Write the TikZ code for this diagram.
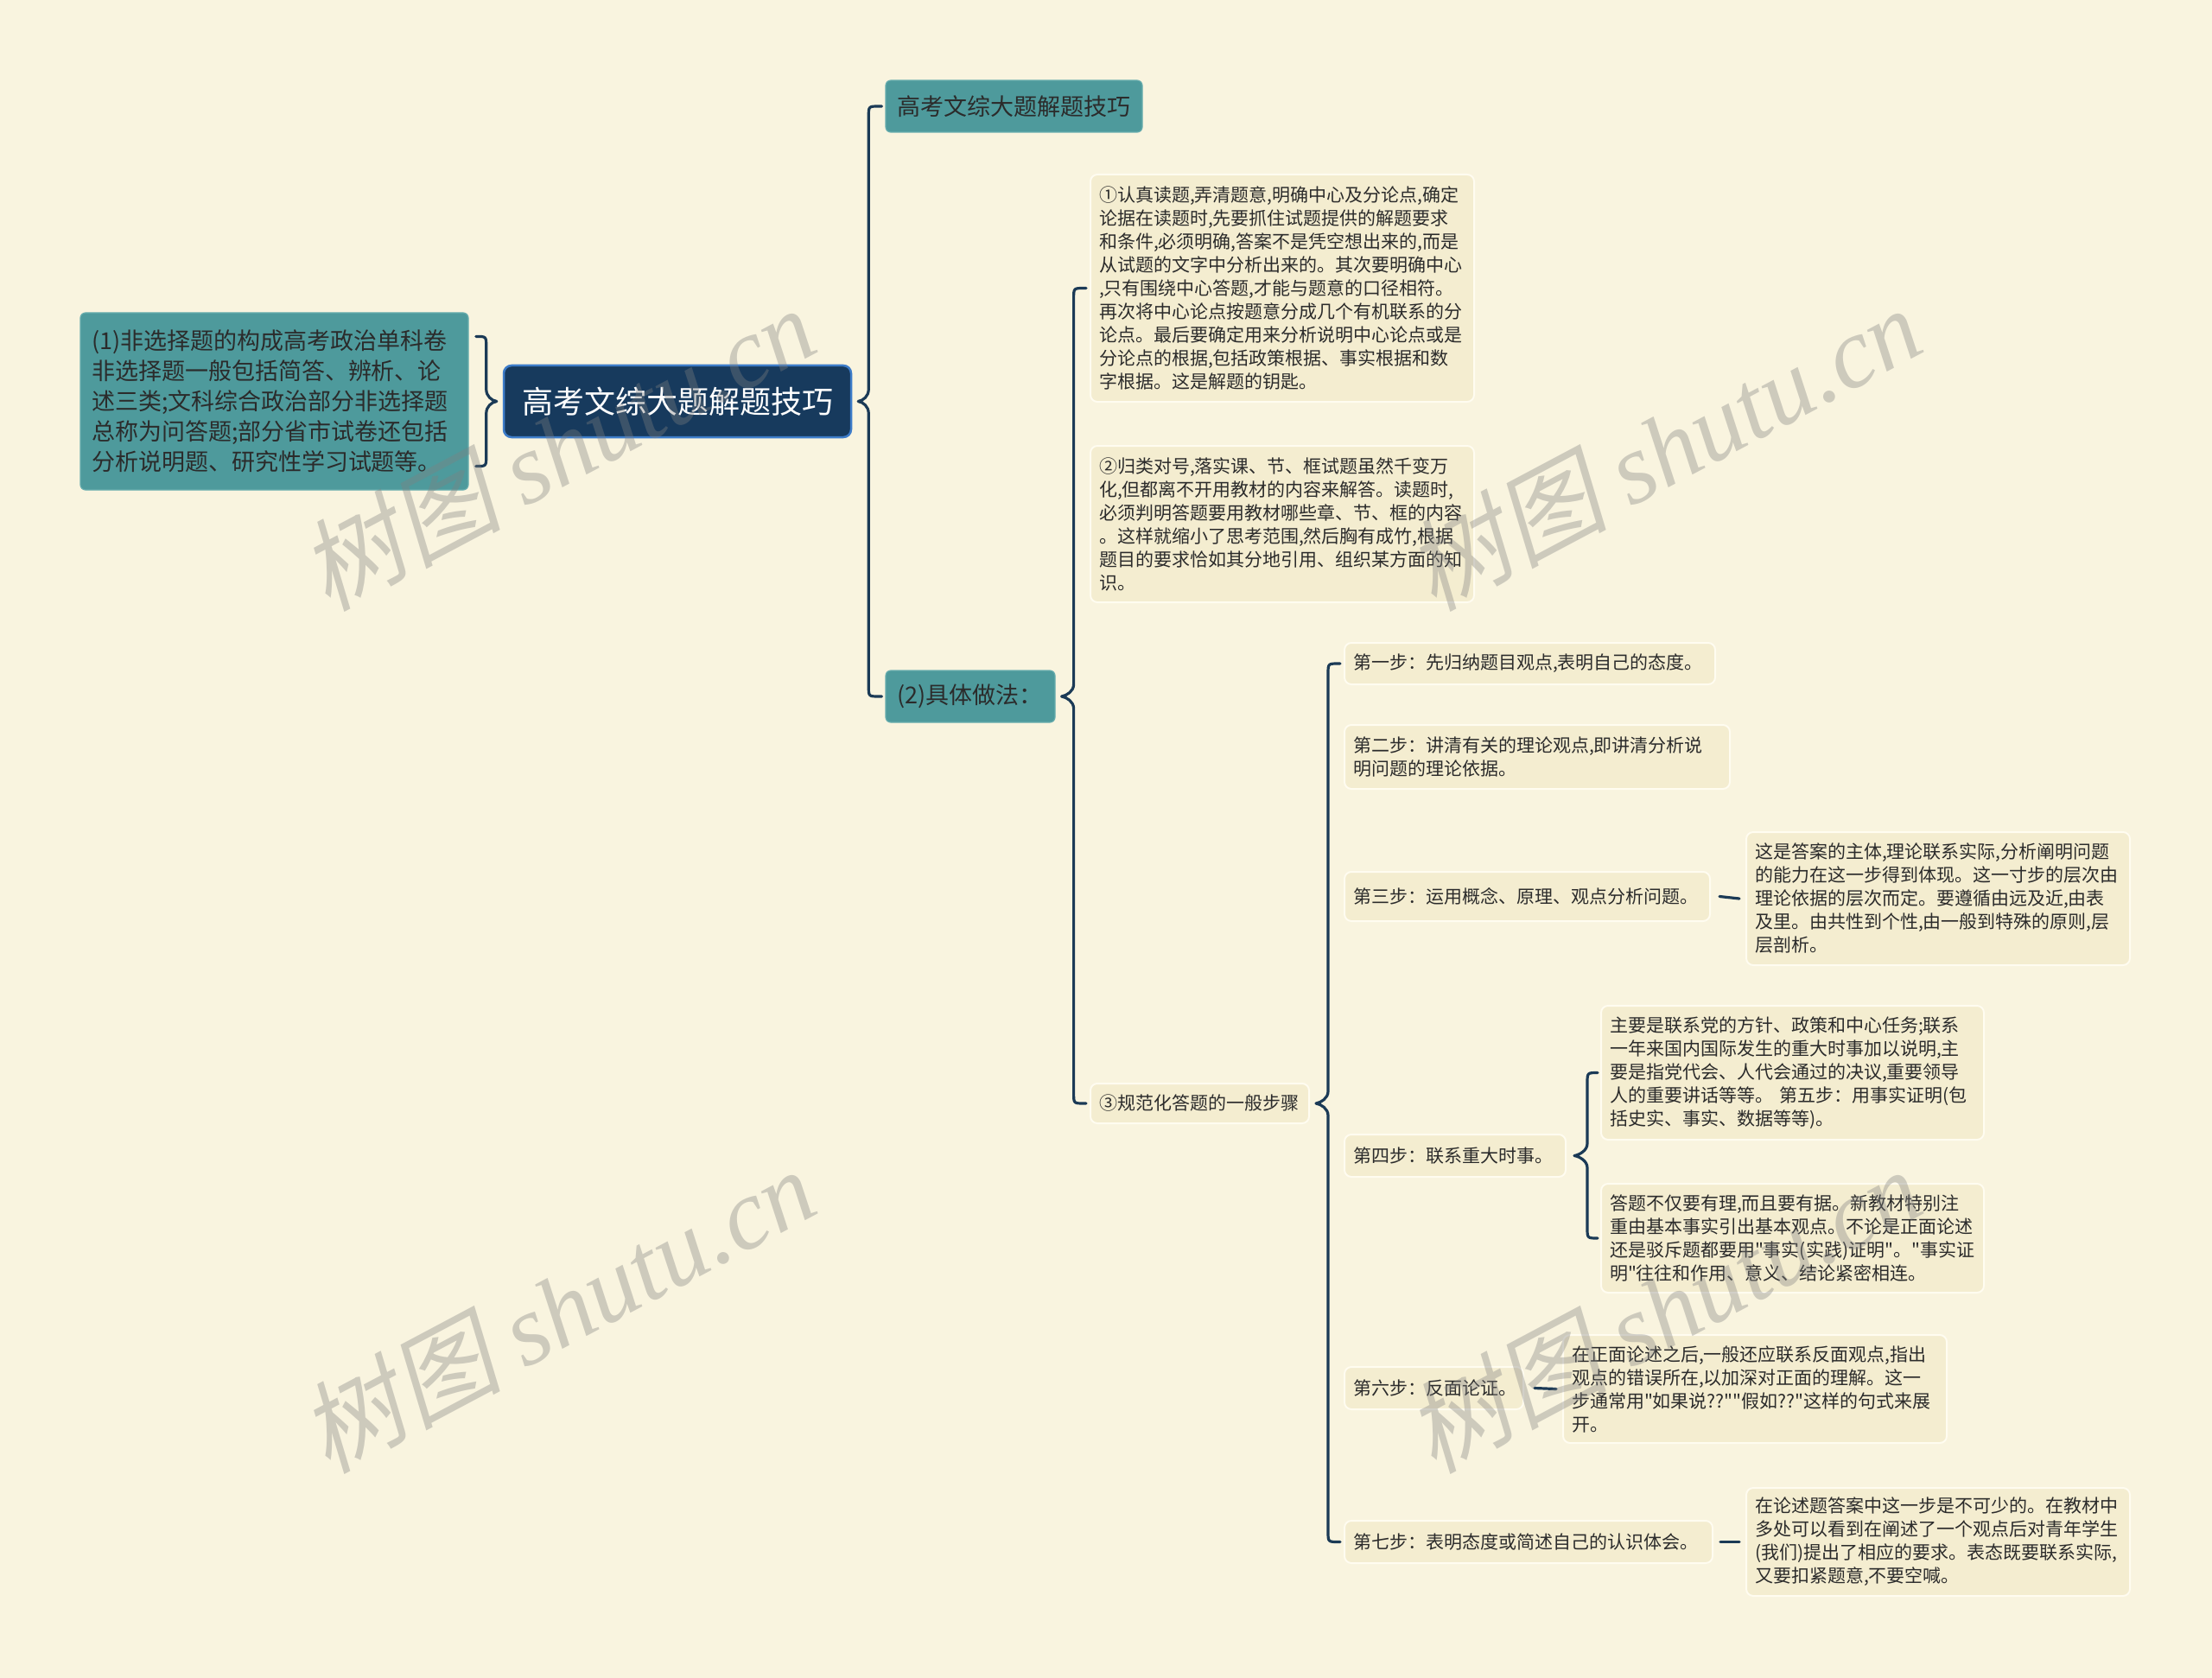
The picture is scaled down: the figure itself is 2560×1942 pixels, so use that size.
\documentclass[tikz,border=0pt]{standalone}
\usepackage{fontspec}
\setmainfont{Noto Sans CJK SC}[Ligatures=TeXOff]
\newfontfamily\wmlatin{Liberation Serif}[Ligatures=TeXOff]
\newfontfamily\wmcjk{Noto Sans CJK SC}[FakeSlant=0.2]
\usetikzlibrary{calc}
\definecolor{bgc}{HTML}{F9F4DF}
\definecolor{tealc}{HTML}{4E9A9C}
\definecolor{tealb}{HTML}{68ADAE}
\definecolor{rootc}{HTML}{173A5D}
\definecolor{rootb}{HTML}{3D7CC9}
\definecolor{leafc}{HTML}{F4EDD0}
\definecolor{leafb}{HTML}{FFFCF0}
\definecolor{connc}{HTML}{1B3A56}
\definecolor{txtc}{HTML}{2B2B2B}
\newcommand{\BrOpen}[4]{%
\draw[conn] ($(#3)+(-4,0)$) -- ($(#2|-#3)+(12,0)$) .. controls (#2|-#3) .. ($(#2|-#3)+(0,12)$) -- ($(#2)+(0,-14)$) .. controls ($(#2)+(0,-6)$) and ($(#1)+(6,-1)$) .. (#1) .. controls ($(#1)+(6,1)$) and ($(#2)+(0,6)$) .. ($(#2)+(0,14)$) -- ($(#2|-#4)+(0,-12)$) .. controls (#2|-#4) .. ($(#2|-#4)+(12,0)$) -- ($(#4)+(-4,0)$);}
\newcommand{\WMtext}{{\wmcjk 树图} {\wmlatin\itshape shutu.cn}}
\begin{document}
\begin{tikzpicture}[x=1pt,y=-1pt,
  tealbox/.style={rounded corners=6, fill=tealc, draw=tealb, line width=1.2, text=txtc, font=\fontsize{27}{35}\selectfont, inner xsep=13, inner ysep=2, align=left},
  rootbox/.style={rounded corners=9, fill=rootc, draw=rootb, line width=2.5, text=white, font=\fontsize{36}{44}\selectfont, inner sep=4},
  leafbox/.style={rounded corners=8, fill=leafc, draw=leafb, line width=2, text=txtc, font=\fontsize{21}{27}\selectfont, inner xsep=10, inner ysep=2, align=left},
  conn/.style={draw=connc, line width=3.2, line cap=round, line join=round},
  wm/.style={text=black!50, text opacity=0.36, font=\fontsize{116}{120}\selectfont, rotate=28}
]
\useasboundingbox (0,0) rectangle (2560,1942);
\fill[bgc] (0,0) rectangle (2560,1942);

% nodes
\node[tealbox, minimum width=449, minimum height=205, text width=423] (L) at (317.5,464.5) {(1)非选择题的构成高考政治单科卷\\非选择题一般包括简答、辨析、论\\述三类;文科综合政治部分非选择题\\总称为问答题;部分省市试卷还包括\\分析说明题、研究性学习试题等。};
\node[rootbox, minimum width=402, minimum height=83] (root) at (784,464.5) {高考文综大题解题技巧};
\node[tealbox, minimum width=297, minimum height=60, text width=271] (A) at (1173.5,123) {高考文综大题解题技巧};
\node[tealbox, minimum width=196, minimum height=60, text width=170] (B) at (1123,806) {(2)具体做法：};

\node[leafbox, minimum width=444, minimum height=263, text width=424] (C1) at (1484,333.5) {①认真读题,弄清题意,明确中心及分论点,确定\\论据在读题时,先要抓住试题提供的解题要求\\和条件,必须明确,答案不是凭空想出来的,而是\\从试题的文字中分析出来的。其次要明确中心\\,只有围绕中心答题,才能与题意的口径相符。\\再次将中心论点按题意分成几个有机联系的分\\论点。最后要确定用来分析说明中心论点或是\\分论点的根据,包括政策根据、事实根据和数\\字根据。这是解题的钥匙。};
\node[leafbox, minimum width=444, minimum height=181, text width=424] (C2) at (1484,606.5) {②归类对号,落实课、节、框试题虽然千变万\\化,但都离不开用教材的内容来解答。读题时,\\必须判明答题要用教材哪些章、节、框的内容\\。这样就缩小了思考范围,然后胸有成竹,根据\\题目的要求恰如其分地引用、组织某方面的知\\识。};
\node[leafbox, minimum width=253, minimum height=46, text width=233] (C3) at (1388.5,1277) {③规范化答题的一般步骤};

\node[leafbox, minimum width=429, minimum height=48, text width=409] (S1) at (1770.5,768) {第一步：先归纳题目观点,表明自己的态度。};
\node[leafbox, minimum width=446, minimum height=74, text width=426] (S2) at (1779,876) {第二步：讲清有关的理论观点,即讲清分析说\\明问题的理论依据。};
\node[leafbox, minimum width=423, minimum height=57, text width=403] (S3) at (1767.5,1037.5) {第三步：运用概念、原理、观点分析问题。};
\node[leafbox, minimum width=444, minimum height=154, text width=424] (S3c) at (2243,1040) {这是答案的主体,理论联系实际,分析阐明问题\\的能力在这一步得到体现。这一寸步的层次由\\理论依据的层次而定。要遵循由远及近,由表\\及里。由共性到个性,由一般到特殊的原则,层\\层剖析。};
\node[leafbox, minimum width=256, minimum height=49, text width=236] (S4) at (1684,1337.5) {第四步：联系重大时事。};
\node[leafbox, minimum width=443, minimum height=155, text width=423] (S4a) at (2074.5,1241.5) {主要是联系党的方针、政策和中心任务;联系\\一年来国内国际发生的重大时事加以说明,主\\要是指党代会、人代会通过的决议,重要领导\\人的重要讲话等等。 第五步：用事实证明(包\\括史实、事实、数据等等)。};
\node[leafbox, minimum width=443, minimum height=126, text width=423] (S4b) at (2074.5,1433) {答题不仅要有理,而且要有据。新教材特别注\\重由基本事实引出基本观点。不论是正面论述\\还是驳斥题都要用"事实(实践)证明"。"事实证\\明"往往和作用、意义、结论紧密相连。};
\node[leafbox, minimum width=207, minimum height=49, text width=187] (S6) at (1659.5,1606.5) {第六步：反面论证。};
\node[leafbox, minimum width=444, minimum height=125, text width=424] (S6c) at (2031,1607.5) {在正面论述之后,一般还应联系反面观点,指出\\观点的错误所在,以加深对正面的理解。这一\\步通常用"如果说??""假如??"这样的句式来展\\开。};
\node[leafbox, minimum width=426, minimum height=49, text width=406] (S7) at (1769,1784.5) {第七步：表明态度或简述自己的认识体会。};
\node[leafbox, minimum width=444, minimum height=125, text width=424] (S7c) at (2243,1784.5) {在论述题答案中这一步是不可少的。在教材中\\多处可以看到在阐述了一个观点后对青年学生\\(我们)提出了相应的要求。表态既要联系实际,\\又要扣紧题意,不要空喊。};

% brace: left node -> root (closing brace)
\coordinate (t0) at ($(root.west)+(-7,0)$);
\coordinate (v0) at ($(root.west)+(-19,0)$);
\draw[conn] ($(v0|-L.north)+(-12,28)$) .. controls ($(v0|-L.north)+(0,28)$) .. ($(v0|-L.north)+(0,40)$) -- ($(v0)+(0,-14)$) .. controls ($(v0)+(0,-6)$) and ($(t0)+(-6,-1)$) .. (t0) .. controls ($(t0)+(-6,1)$) and ($(v0)+(0,6)$) .. ($(v0)+(0,14)$) -- ($(v0|-L.south)+(0,-40)$) .. controls ($(v0|-L.south)+(0,-28)$) .. ($(v0|-L.south)+(-12,-28)$);

% root -> A, B
\coordinate (t1) at ($(root.east)+(7,0)$);
\coordinate (v1) at ($(root.east)+(19,0)$);
\BrOpen{t1}{v1}{A.west}{B.west}

% B -> C1..C3
\coordinate (t2) at ($(B.east)+(7,0)$);
\coordinate (v2) at ($(B.east)+(21,0)$);
\BrOpen{t2}{v2}{C1.west}{C3.west}

% C3 -> steps
\coordinate (t3) at ($(C3.east)+(7,0)$);
\coordinate (v3) at ($(C3.east)+(21,0)$);
\BrOpen{t3}{v3}{S1.west}{S7.west}

% S4 -> S4a, S4b
\coordinate (t4) at ($(S4.east)+(9,0)$);
\coordinate (v4) at ($(S4.east)+(24,0)$);
\BrOpen{t4}{v4}{S4a.west}{S4b.west}

% single connectors
\draw[conn] ($(S3.east)+(10,0)$) -- ($(S3c.west)+(-7,0)$);
\draw[conn] ($(S6.east)+(12,0)$) -- ($(S6c.west)+(-7,0)$);
\draw[conn] ($(S7.east)+(8,0)$) -- ($(S7c.west)+(-7,0)$);

% watermarks
\node[wm] (wm1) at (645,518) {\WMtext};
\node[wm] (wm2) at (1925,518) {\WMtext};
\node[wm] (wm3) at (645,1515) {\WMtext};
\node[wm] (wm4) at (1925,1515) {\WMtext};
\end{tikzpicture}
\end{document}
